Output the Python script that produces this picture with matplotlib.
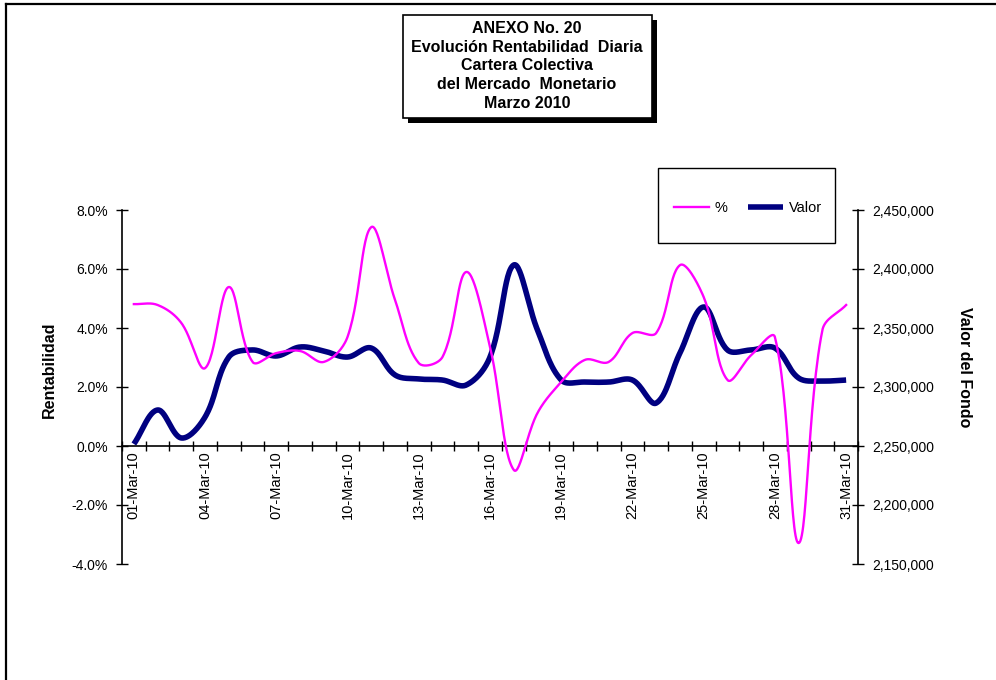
import numpy as np
import matplotlib.pyplot as plt
from matplotlib.lines import Line2D
from matplotlib.patches import Rectangle
from matplotlib.ticker import FuncFormatter, FixedLocator

plt.rcParams['font.family'] = ['Liberation Sans', 'DejaVu Sans']

dias = list(range(1, 32))
etiquetas = ['%02d-Mar-10' % d for d in dias]

rentabilidad = [4.81, 4.78, 4.17, 2.64, 5.39, 2.85, 3.15, 3.22, 2.85, 3.70,
                7.42, 4.95, 2.81, 3.02, 5.90, 3.36, -0.81, 1.12, 2.17, 2.92,
                2.85, 3.83, 3.83, 6.13, 5.05, 2.24, 3.08, 3.69, -3.29, 3.93,
                4.78]
valor = [2251700, 2280500, 2256800, 2274600, 2325400, 2331400, 2326300,
         2333900, 2330500, 2325400, 2333000, 2310200, 2306800, 2305900,
         2301700, 2325400, 2403400, 2348300, 2305900, 2304200, 2304200,
         2305900, 2286400, 2328800, 2367800, 2331400, 2331400, 2333000,
         2307600, 2305100, 2305900]


def suavizar(a, x, y, t=0.36, n=30):
    # curva suavizada tipo Excel, calculada en pixeles
    p = a.transData.transform(np.column_stack([x, y]))
    m = len(p)
    cin = np.zeros_like(p)
    cout = np.zeros_like(p)
    for i in range(m):
        p0 = p[max(i - 1, 0)]
        p2 = p[min(i + 1, m - 1)]
        d01 = np.hypot(*(p[i] - p0))
        d12 = np.hypot(*(p2 - p[i]))
        s = d01 + d12
        if s == 0:
            cin[i] = cout[i] = p[i]
            continue
        cin[i] = p[i] - t * d01 / s * (p2 - p0)
        cout[i] = p[i] + t * d12 / s * (p2 - p0)
    u = np.linspace(0, 1, n)[:, None]
    seg = []
    for i in range(m - 1):
        b = ((1 - u) ** 3 * p[i] + 3 * (1 - u) ** 2 * u * cout[i]
             + 3 * (1 - u) * u ** 2 * cin[i + 1] + u ** 3 * p[i + 1])
        seg.append(b)
    q = a.transData.inverted().transform(np.vstack(seg))
    return q[:, 0], q[:, 1]


W, H = 996, 680
fig = plt.figure(figsize=(9.96, 6.8), dpi=100)
ax = fig.add_axes([122 / W, 1 - 564 / H, (858 - 122) / W, (564 - 210) / H])
ax2 = ax.twinx()

ax.set_xlim(0.5, 31.5)
ax.set_ylim(-4, 8)
ax2.set_ylim(2150000, 2450000)

xr, yr = suavizar(ax, dias, rentabilidad)
l1, = ax.plot(xr, yr, color='#FF00FF', lw=1.7, zorder=3)
xv, yv = suavizar(ax2, dias, valor)
l2, = ax2.plot(xv, yv, color='#000080', lw=4, zorder=3, solid_capstyle='butt')
ax.set_zorder(ax2.get_zorder() + 1)
ax.patch.set_visible(False)
ax.set_xlim(0.5, 31.5)
ax.set_ylim(-4, 8)
ax2.set_ylim(2150000, 2450000)

ax.set_yticks(np.arange(-4, 8.1, 2))
ax.yaxis.set_major_formatter(FuncFormatter(lambda v, p: '%.1f%%' % v))
ax2.set_yticks(np.arange(2150000, 2450001, 50000))
ax2.yaxis.set_major_formatter(FuncFormatter(lambda v, p: '{:,.0f}'.format(v)))

ax.set_xticks(dias[::3])
ax.set_xticklabels(etiquetas[::3])
ax.xaxis.set_minor_locator(FixedLocator(np.arange(0.5, 32, 1)))
ax.tick_params(axis='x', which='major', length=0, pad=4, labelsize=10.5, labelrotation=90)
for lb in ax.get_xticklabels():
    lb.set_va('top')
ax.tick_params(axis='x', which='minor', length=7, direction='inout', width=1)
ax.tick_params(axis='y', length=8, direction='inout', width=1, labelsize=10, pad=6)
ax2.tick_params(axis='y', length=8, direction='inout', width=1, labelsize=10, pad=6)

for a in (ax, ax2):
    a.spines['top'].set_visible(False)
    a.spines['bottom'].set_visible(False)
ax.spines['bottom'].set_visible(True)
ax.spines['bottom'].set_position(('data', 0))
ax.spines['right'].set_visible(False)
ax2.spines['left'].set_visible(False)
for s in ('left', 'bottom'):
    ax.spines[s].set_linewidth(1.2)
ax2.spines['right'].set_linewidth(1.2)

fig.text(49 / W, 1 - 370 / H, 'Rentabilidad', rotation=90, ha='center', va='center',
         fontsize=11.5, fontweight='bold')
fig.text(965 / W, 1 - 367 / H, 'Valor del Fondo', rotation=-90, ha='center', va='center',
         fontsize=11.5, fontweight='bold')

# caja del titulo con sombra
fig.patches.append(Rectangle((408 / W, 1 - 123 / H), 249 / W, 103 / H,
                             transform=fig.transFigure, facecolor='black', edgecolor='none'))
fig.patches.append(Rectangle((403 / W, 1 - 118 / H), 249 / W, 103 / H,
                             transform=fig.transFigure, facecolor='white', edgecolor='black', lw=1.2))
fig.text(527 / W, 1 - 66 / H,
         'ANEXO No. 20\nEvolución Rentabilidad  Diaria\nCartera Colectiva\ndel Mercado  Monetario\nMarzo 2010',
         ha='center', va='center', fontsize=11.5, fontweight='bold', linespacing=1.32)

# leyenda
fig.patches.append(Rectangle((658 / W, 1 - 243 / H), 177 / W, 75 / H,
                             transform=fig.transFigure, facecolor='white', edgecolor='black', lw=1))
fig.legend([l1, l2], ['%', 'Valor'], loc='center', bbox_to_anchor=(748 / W, 1 - 208 / H),
           ncol=2, frameon=False, fontsize=10.5, handlelength=2.4, columnspacing=1.4,
           handletextpad=0.4)

# borde del area
fig.lines.append(Line2D([6 / W, 1], [1 - 4 / H, 1 - 4 / H], transform=fig.transFigure,
                        color='black', lw=1.6))
fig.lines.append(Line2D([6 / W, 6 / W], [1 - 4 / H, 0], transform=fig.transFigure,
                        color='black', lw=1.6))

fig.savefig('out.png', dpi=100)
